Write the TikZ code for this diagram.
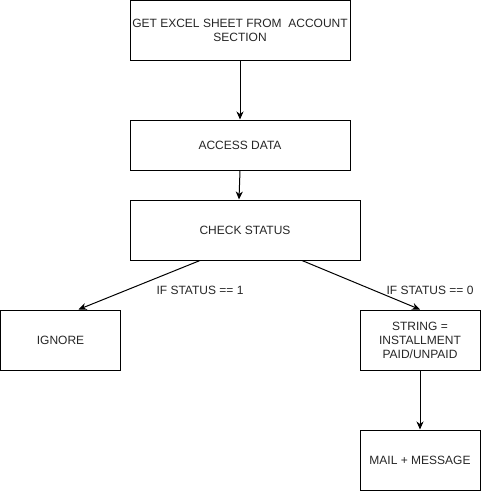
\documentclass[tikz,border=0pt]{standalone}
\usepackage{fontspec}
\setmainfont{Liberation Sans}
\usetikzlibrary{arrows.meta}
\begin{document}
\begin{tikzpicture}[x=1pt,y=-1pt,
  box/.style={draw=black,line width=1pt,align=center,inner sep=1pt,
    font=\fontsize{12}{14}\selectfont,text=black!85},
  arr/.style={draw=black,line width=1pt,-{Stealth[length=8pt,width=7pt,inset=2.5pt]}},
  lbl/.style={font=\fontsize{12}{14}\selectfont,text=black!85,inner sep=0pt}]
\useasboundingbox (0,0) rectangle (481,491);
\node[box,minimum width=220pt,minimum height=60pt] (get) at (240,30.5) {GET EXCEL SHEET FROM\ \ ACCOUNT\\SECTION};
\node[box,minimum width=220pt,minimum height=50pt] (acc) at (240,145) {ACCESS DATA};
\node[box,minimum width=230pt,minimum height=60pt] (chk) at (245,230) {CHECK STATUS};
\node[box,minimum width=120pt,minimum height=60pt] (ign) at (60.5,340) {IGNORE};
\node[box,minimum width=120pt,minimum height=60pt] (str) at (420,340) {STRING =\\INSTALLMENT\\PAID/UNPAID};
\node[box,minimum width=120pt,minimum height=60pt] (mail) at (420,460) {MAIL + MESSAGE};
\draw[arr] (get.south) -- (acc.north);
\draw[arr] (acc.south) -- ([xshift=-1pt]chk.north west -| acc.south);
\draw[arr] ([xshift=-45pt]chk.south) -- ([xshift=18pt]ign.north);
\draw[arr] ([xshift=57pt]chk.south) -- (str.north);
\draw[arr] (str.south) -- (mail.north);
\node[lbl] (l1) at (200,290) {IF STATUS == 1};
\node[lbl] (l0) at (430,290) {IF STATUS == 0};
\end{tikzpicture}
\end{document}
